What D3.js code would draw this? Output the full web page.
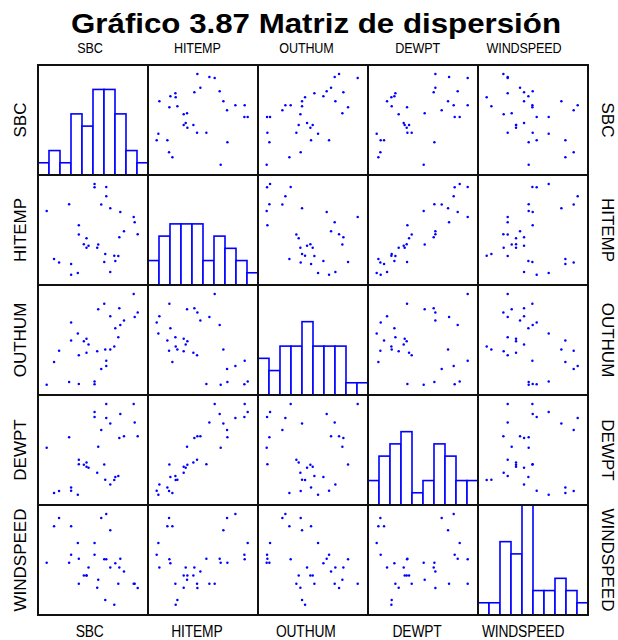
<!DOCTYPE html>
<html>
<head>
<meta charset="utf-8">
<script src="https://cdn.jsdelivr.net/npm/d3@7"></script>
<style>
  html, body { margin: 0; padding: 0; background: #ffffff; }
  svg { display: block; }
</style>
</head>
<body>
<svg id="chart" width="618" height="640"></svg>
<script>
// ---------------- data ----------------
const title = "Gráfico 3.87 Matriz de dispersión";
const variables = ["SBC", "HITEMP", "OUTHUM", "DEWPT", "WINDSPEED"];

const SBC = [155, 150.5, 149, 134.5, 129, 127.5, 126, 121.5, 120, 114, 114, 108, 108, 106.5, 105, 100.5, 96, 94.5,
             90.5, 90.5, 81.5, 78.5, 78.5, 74.5, 67, 67, 65.5, 55.5, 55.5, 52.5, 37.5, 30, 19];
const HITEMP = [69.8, 73.4, 75.0, 70.7, 76.5, 68.9, 63.2, 61.7, 63.3, 58.4, 77.6, 81.2, 84.0, 63.8, 61.4, 78.7, 66.7, 65.7,
                83.9, 84.9, 66.3, 65.7, 68.6, 66.8, 69.7, 72.5, 58.1, 57.6, 60.8, 78.8, 61.3, 62.3, 76.8];
const OUTHUM = [68.6, 66.0, 79.8, 63.8, 61.2, 71.2, 53.8, 59.2, 48.2, 66.4, 46.4, 36.4, 39.6, 46.4, 74.0, 34.6, 70.6, 45.4,
                25.4, 27.2, 49.4, 52.8, 44.4, 51.4, 43.0, 25.6, 56.0, 62.6, 51.8, 26.8, 45.6, 38.8, 25.2];
const DEWPT = [55.2, 59.3, 64.9, 55.2, 61.9, 54.7, 43.2, 42.9, 42.0, 40.7, 59.0, 60.7, 64.9, 42.1, 46.7, 57.1, 52.0, 44.2,
               61.0, 62.5, 45.7, 46.0, 47.3, 46.6, 48.1, 46.8, 37.6, 38.8, 39.8, 54.9, 38.7, 38.1, 51.7];
const WINDSPEED = [3.75, 4.4, 4.4, 6.25, 8.15, 6.85, 4.4, 7.5, 1.25, 6.85, 12.45, 14.9, 8.1, 1.95, 8.1, 14.3, 5.0, 3.8,
                   8.75, 10.55, 6.85, 5.65, 5.65, 5.65, 4.4, 8.15, 10.55, 8.75, 13.05, 7.55, 14.3, 13.05, 7.55];

// histogram counts (10 bins each) on the diagonal
const histSBC       = [1, 2, 1, 5, 4, 7, 7, 5, 2, 1];
const histHITEMP    = [2, 4, 5, 5, 5, 2, 4, 3, 2, 1];
const histOUTHUM    = [3, 2, 4, 4, 6, 4, 4, 4, 1, 1];
const histDEWPT     = [2, 4, 5, 6, 1, 2, 5, 4, 2, 2];
const histWINDSPEED = [1, 1, 6, 5, 9, 2, 2, 3, 2, 1];

// ---------------- layout ----------------
const series = [SBC, HITEMP, OUTHUM, DEWPT, WINDSPEED];
const hists = [histSBC, histHITEMP, histOUTHUM, histDEWPT, histWINDSPEED];
const nVar = variables.length;
const gridLeft = 38, gridTop = 65, cell = 110;
const padLo = 8.7, padHi = 10.3;
const fontFam = "'Liberation Sans', Arial, Helvetica, sans-serif";

const svg = d3.select("#chart");

const xScale = j => d3.scaleLinear()
  .domain(d3.extent(series[j]))
  .range([gridLeft + j * cell + padLo, gridLeft + (j + 1) * cell - padHi]);
const yScale = i => d3.scaleLinear()
  .domain(d3.extent(series[i]))
  .range([gridTop + (i + 1) * cell - padHi, gridTop + i * cell + padLo + 0.3]);

const histMax = d3.max(hists.flat());

for (let i = 0; i < nVar; i++) {
  for (let j = 0; j < nVar; j++) {
    const x0 = gridLeft + j * cell, y0 = gridTop + i * cell;
    const g = svg.append("g");
    if (i === j) {
      const counts = hists[i];
      const bx = d3.scaleLinear().domain([0, counts.length]).range([x0, x0 + cell]);
      const by = d3.scaleLinear().domain([0, histMax]).range([y0 + cell, y0]);
      g.selectAll("rect")
        .data(counts)
        .join("rect")
        .attr("x", (d, k) => bx(k))
        .attr("width", (d, k) => bx(k + 1) - bx(k))
        .attr("y", d => by(d))
        .attr("height", d => by(0) - by(d))
        .attr("fill", "#ffffff")
        .attr("stroke", "#0000ff")
        .attr("stroke-width", 1.6);
    } else {
      const sx = xScale(j), sy = yScale(i);
      const xs = series[j], ys = series[i];
      g.selectAll("circle")
        .data(d3.range(xs.length))
        .join("circle")
        .attr("cx", k => sx(xs[k]))
        .attr("cy", k => sy(ys[k]))
        .attr("r", 1.25)
        .attr("fill", "#0000ff");
    }
  }
}

// panel frames
for (let i = 0; i < nVar; i++) {
  for (let j = 0; j < nVar; j++) {
    svg.append("rect")
      .attr("x", gridLeft + j * cell)
      .attr("y", gridTop + i * cell)
      .attr("width", cell)
      .attr("height", cell)
      .attr("fill", "none")
      .attr("stroke", "#111111")
      .attr("stroke-width", 2);
  }
}

// title
svg.append("text")
  .attr("x", 316)
  .attr("y", 33)
  .attr("text-anchor", "middle")
  .attr("textLength", 490)
  .attr("lengthAdjust", "spacingAndGlyphs")
  .style("font-family", fontFam)
  .style("font-weight", "bold")
  .style("font-size", "28px")
  .attr("fill", "#000")
  .text(title);

// column labels (top and bottom) - narrow, tall lettering
const squeeze = 0.84;
variables.forEach((v, j) => {
  const cx = gridLeft + j * cell + cell / 2;
  [[52.7, 15], [637.3, 16.5]].forEach(([yy, fs]) => {
    const t = svg.append("text")
      .style("font-family", fontFam)
      .style("font-size", fs + "px")
      .style("letter-spacing", "-0.2px")
      .attr("fill", "#000")
      .text(v);
    const w = t.node().getComputedTextLength() * squeeze;
    t.attr("transform", `translate(${cx - 0.62 * w},${yy}) scale(${squeeze},1)`);
  });
});

// row labels (left and right)
variables.forEach((v, i) => {
  const cy = gridTop + i * cell + cell / 2;
  svg.append("text")
    .attr("transform", `translate(26,${cy}) rotate(-90)`)
    .attr("text-anchor", "middle")
    .style("font-family", fontFam)
    .style("font-size", "17px")
    .attr("fill", "#000")
    .text(v);
  svg.append("text")
    .attr("transform", `translate(602,${cy}) rotate(90)`)
    .attr("text-anchor", "middle")
    .style("font-family", fontFam)
    .style("font-size", "17px")
    .attr("fill", "#000")
    .text(v);
});
</script>
</body>
</html>
